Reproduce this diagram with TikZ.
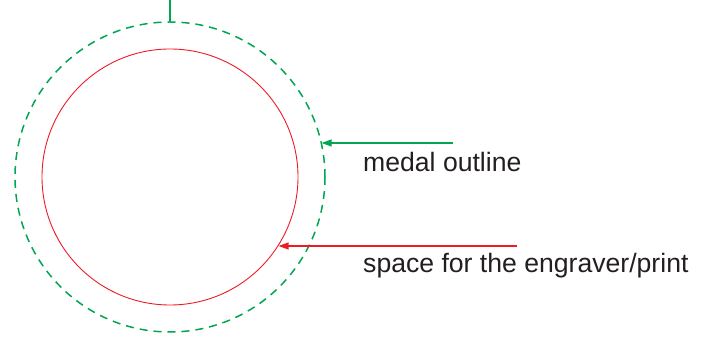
\documentclass[tikz,border=0pt]{standalone}
\usepackage{fontspec}
\setmainfont{Liberation Sans}
\usetikzlibrary{arrows.meta}
\definecolor{mgreen}{RGB}{0,166,81}
\definecolor{mred}{RGB}{237,28,36}
\definecolor{mtext}{RGB}{35,31,32}
\begin{document}
\begin{tikzpicture}[x=1pt,y=1pt,
  ring/.style={circle,draw,inner sep=0pt,outer sep=0pt},
  lbl/.style={anchor=base west,inner sep=0pt,text=mtext,font=\fontsize{26.6}{30}\selectfont},
  tip/.style={-{Triangle[length=10pt,width=7pt]}}]
\useasboundingbox (0,0) rectangle (701,339);
\node[ring,mgreen,dashed,dash pattern=on 8pt off 6pt,line width=1.5pt,minimum size=310pt] (outer) at (170,162) {};
\node[ring,mred,line width=0.9pt,minimum size=256pt] (inner) at (170,162) {};
\coordinate (top) at (170,339);
\draw[mgreen,line width=1.5pt] (outer.north) -- (top);
\coordinate (gtail) at (453,196);
\coordinate (rtail) at (517,93);
\draw[tip,mgreen,line width=1.2pt] (gtail) -- (outer.12.67 |- gtail);
\draw[tip,mred,line width=1.2pt] (rtail) -- (inner.-32.6 |- rtail);
\node[lbl] (t1) at (363,167) {medal outline};
\node[lbl] (t2) at (363,66) {space for the engraver/print};
\end{tikzpicture}
\end{document}
